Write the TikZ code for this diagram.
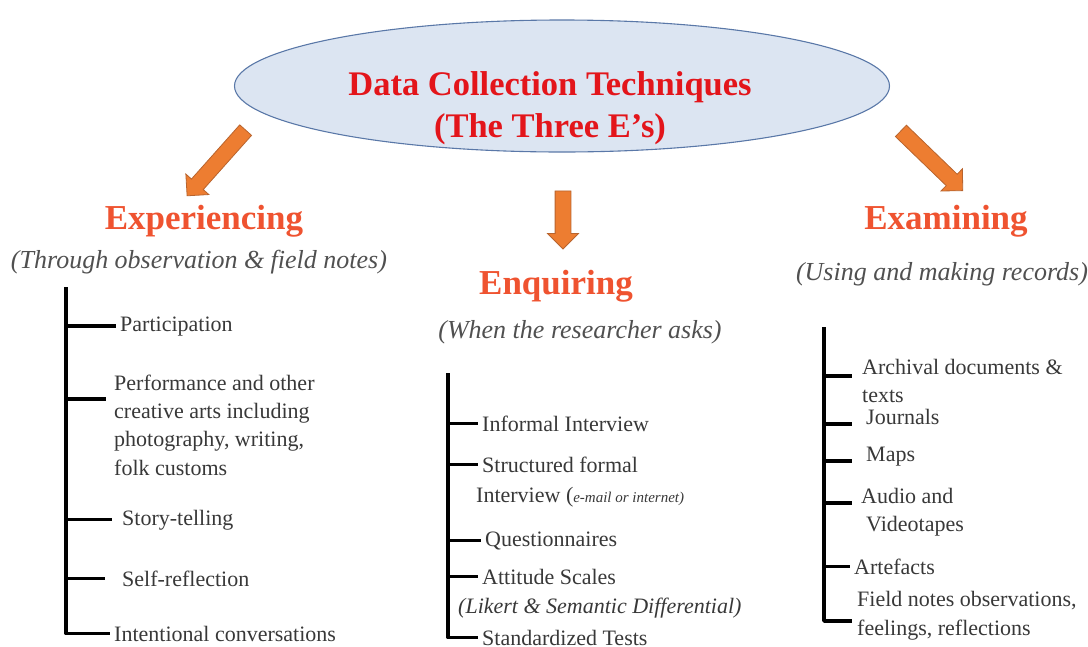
\documentclass[tikz,border=0pt]{standalone}
\usepackage{fontspec}
\setmainfont{Liberation Serif}
\usetikzlibrary{shapes.geometric}
\usetikzlibrary{shapes.arrows}
\usetikzlibrary{positioning}

\definecolor{titlered}{HTML}{E3151B}
\definecolor{headred}{HTML}{EF5330}
\definecolor{subgray}{HTML}{505050}
\definecolor{itemgray}{HTML}{383838}
\definecolor{ovalfill}{HTML}{DCE5F2}
\definecolor{ovaledge}{HTML}{5A78A8}
\definecolor{arroworange}{HTML}{ED7D31}
\definecolor{arrowedge}{HTML}{B8642E}

\begin{document}
\begin{tikzpicture}[x=1pt,y=-1pt,
                    oval/.style={ellipse,draw=ovaledge,fill=ovalfill,line width=1.1pt,
                                 minimum width=655pt,minimum height=132pt},
                    title/.style={align=center,text=titlered,
                                  font=\bfseries\fontsize{34.5}{42}\selectfont},
                    head/.style={anchor=base,text=headred,font=\bfseries\fontsize{35}{40}\selectfont},
                    sub/.style={anchor=base,text=subgray,font=\itshape\fontsize{26}{30}\selectfont},
                    item/.style={anchor=base west,inner ysep=0pt,inner xsep=4pt,text=itemgray,
                                 font=\fontsize{22}{26}\selectfont},
                    fat arrow/.style={single arrow,draw=arrowedge,fill=arroworange,line width=0.8pt,
                                      inner xsep=0pt,inner ysep=7.5pt,minimum width=30pt,
                                      single arrow head extend=7.5pt},
                    tree/.style={line width=3.4pt,line join=round}]

  \useasboundingbox (0,0) rectangle (1088,646);

  \node[oval] (oval) at (562,86) {};
  \node[title] (title) at (550,108) {Data Collection Techniques\\(The Three E's)};

  \node[fat arrow,minimum height=88pt,rotate=-131.7] (arrL) at (219,160) {};
  \node[fat arrow,minimum height=58pt,rotate=-90] (arrM) at (563,216) {};
  \node[fat arrow,minimum height=86pt,rotate=-44] (arrR) at (929,158) {};

  \node[head] (exp) at (204,229) {Experiencing};
  \node[sub] (expsub) at (199,268) {(Through observation \& field notes)};
  \node[head] (enq) at (556,294) {Enquiring};
  \node[sub] (enqsub) at (580,338) {(When the researcher asks)};
  \node[head] (exa) at (946,229) {Examining};
  \node[sub] (exasub) at (942,280) {(\textit{Using and making records)}};

  % experiencing
  \coordinate (etop) at (66,287);
  \node[item] (e1) at (116,331) {Participation};
  \node[item] (e2a) at (110,390) {Performance and other};
  \node[item] (e2b) at (110,418) {creative arts including};
  \node[item] (e2c) at (110,446) {photography, writing,};
  \node[item] (e2d) at (110,475) {folk customs};
  \coordinate (e2) at (106,399);
  \node[item] (e3) at (118,525) {Story-telling};
  \node[item] (e4) at (118,586) {Self-reflection};
  \node[item] (e5) at (110,641) {Intentional conversations};

  \draw[tree] (etop) |- (e5.west);
  \draw[tree] (etop |- e1.west) -- (e1.west);
  \draw[tree] (etop |- e2) -- (e2);
  \draw[tree,shorten >=6pt] (etop |- e3.west) -- (e3.west);
  \draw[tree,shorten >=13pt] (etop |- e4.west) -- (e4.west);

  % enquiring
  \coordinate (qtop) at (448,373);
  \node[item] (q1) at (478,431) {Informal Interview};
  \node[item] (q2a) at (478,472) {Structured formal};
  \node[item] (q2b) at (472,502) {Interview (\textit{\fontsize{15}{17}\selectfont e-mail or internet)}};
  \node[item] (q3) at (481,546) {Questionnaires};
  \node[item] (q4a) at (478,584) {Attitude Scales};
  \node[item,font=\itshape\fontsize{22}{26}\selectfont] (q4b) at (454,613) {(Likert \& Semantic Differential)};
  \node[item] (q5) at (478,645) {Standardized Tests};

  \draw[tree] (qtop) |- (q5.west);
  \draw[tree] (qtop |- q1.west) -- (q1.west);
  \draw[tree] (qtop |- q2a.west) -- (q2a.west);
  \draw[tree] (qtop |- q3.west) -- (q3.west);
  \draw[tree] (qtop |- q4a.west) -- (q4a.west);

  % examining
  \coordinate (xtop) at (824,327);
  \node[item] (x1a) at (858,374) {Archival documents \&};
  \node[item] (x1b) at (858,402) {texts};
  \coordinate (x1) at (852,376);
  \node[item] (x2) at (862,424) {Journals};
  \node[item] (x3) at (862,461) {Maps};
  \node[item] (x4a) at (857,503) {Audio and};
  \node[item] (x4b) at (862,531) {Videotapes};
  \node[item] (x5) at (850,574) {Artefacts};
  \node[item] (x6a) at (853,606) {Field notes observations,};
  \node[item] (x6b) at (853,635) {feelings, reflections};
  \coordinate (x6) at (852,621);

  \draw[tree] (xtop) |- (x6);
  \draw[tree] (xtop |- x1) -- (x1);
  \draw[tree,shorten >=10pt] (xtop |- x2.base west) -- (x2.base west);
  \draw[tree,shorten >=10pt] (xtop |- x3.base west) -- (x3.base west);
  \draw[tree,shorten >=5pt] (xtop |- x4a.base west) -- (x4a.base west);
  \draw[tree] (xtop |- x5.west) -- (x5.west);
\end{tikzpicture}
\end{document}
